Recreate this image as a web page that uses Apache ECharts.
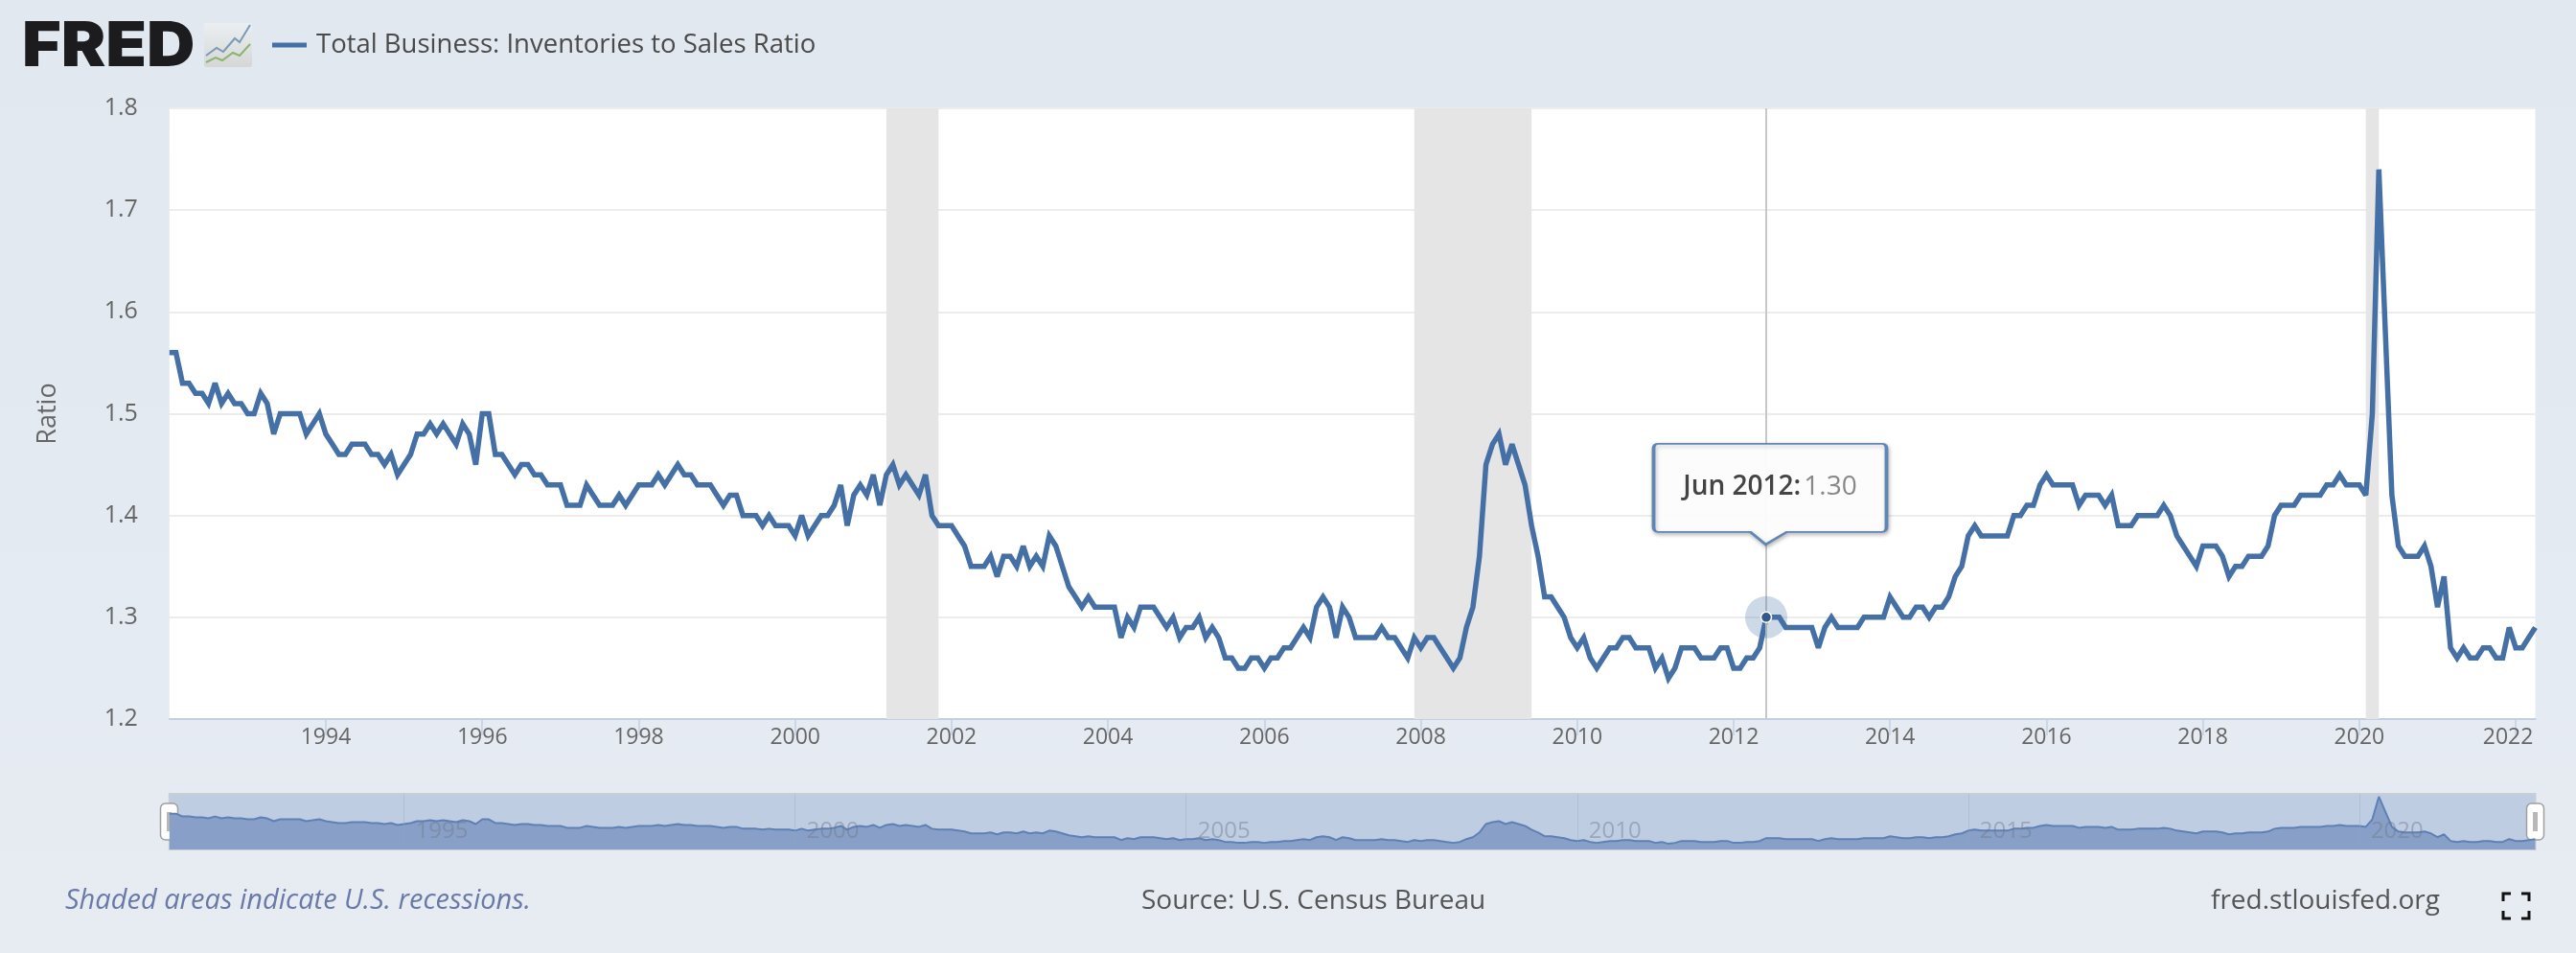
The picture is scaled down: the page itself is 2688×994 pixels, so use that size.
<!DOCTYPE html>
<html>
<head>
<meta charset="utf-8">
<title>Total Business: Inventories to Sales Ratio</title>
<style>html,body{margin:0;padding:0;background:#e3e9f1}#chart{width:2688px;height:994px}</style>
<script src="https://cdn.jsdelivr.net/npm/echarts@6/dist/echarts.min.js"></script>
</head>
<body>
<div id="chart"></div>
<script>
const seriesName = 'Total Business: Inventories to Sales Ratio';
const firstYear = 1992;
const y1992 = [1.56,1.56,1.53,1.53,1.52,1.52,1.51,1.53,1.51,1.52,1.51,1.51];
const y1993 = [1.50,1.50,1.52,1.51,1.48,1.50,1.50,1.50,1.50,1.48,1.49,1.50];
const y1994 = [1.48,1.47,1.46,1.46,1.47,1.47,1.47,1.46,1.46,1.45,1.46,1.44];
const y1995 = [1.45,1.46,1.48,1.48,1.49,1.48,1.49,1.48,1.47,1.49,1.48,1.45];
const y1996 = [1.50,1.50,1.46,1.46,1.45,1.44,1.45,1.45,1.44,1.44,1.43,1.43];
const y1997 = [1.43,1.41,1.41,1.41,1.43,1.42,1.41,1.41,1.41,1.42,1.41,1.42];
const y1998 = [1.43,1.43,1.43,1.44,1.43,1.44,1.45,1.44,1.44,1.43,1.43,1.43];
const y1999 = [1.42,1.41,1.42,1.42,1.40,1.40,1.40,1.39,1.40,1.39,1.39,1.39];
const y2000 = [1.38,1.40,1.38,1.39,1.40,1.40,1.41,1.43,1.39,1.42,1.43,1.42];
const y2001 = [1.44,1.41,1.44,1.45,1.43,1.44,1.43,1.42,1.44,1.40,1.39,1.39];
const y2002 = [1.39,1.38,1.37,1.35,1.35,1.35,1.36,1.34,1.36,1.36,1.35,1.37];
const y2003 = [1.35,1.36,1.35,1.38,1.37,1.35,1.33,1.32,1.31,1.32,1.31,1.31];
const y2004 = [1.31,1.31,1.28,1.30,1.29,1.31,1.31,1.31,1.30,1.29,1.30,1.28];
const y2005 = [1.29,1.29,1.30,1.28,1.29,1.28,1.26,1.26,1.25,1.25,1.26,1.26];
const y2006 = [1.25,1.26,1.26,1.27,1.27,1.28,1.29,1.28,1.31,1.32,1.31,1.28];
const y2007 = [1.31,1.30,1.28,1.28,1.28,1.28,1.29,1.28,1.28,1.27,1.26,1.28];
const y2008 = [1.27,1.28,1.28,1.27,1.26,1.25,1.26,1.29,1.31,1.36,1.45,1.47];
const y2009 = [1.48,1.45,1.47,1.45,1.43,1.39,1.36,1.32,1.32,1.31,1.30,1.28];
const y2010 = [1.27,1.28,1.26,1.25,1.26,1.27,1.27,1.28,1.28,1.27,1.27,1.27];
const y2011 = [1.25,1.26,1.24,1.25,1.27,1.27,1.27,1.26,1.26,1.26,1.27,1.27];
const y2012 = [1.25,1.25,1.26,1.26,1.27,1.30,1.30,1.30,1.29,1.29,1.29,1.29];
const y2013 = [1.29,1.27,1.29,1.30,1.29,1.29,1.29,1.29,1.30,1.30,1.30,1.30];
const y2014 = [1.32,1.31,1.30,1.30,1.31,1.31,1.30,1.31,1.31,1.32,1.34,1.35];
const y2015 = [1.38,1.39,1.38,1.38,1.38,1.38,1.38,1.40,1.40,1.41,1.41,1.43];
const y2016 = [1.44,1.43,1.43,1.43,1.43,1.41,1.42,1.42,1.42,1.41,1.42,1.39];
const y2017 = [1.39,1.39,1.40,1.40,1.40,1.40,1.41,1.40,1.38,1.37,1.36,1.35];
const y2018 = [1.37,1.37,1.37,1.36,1.34,1.35,1.35,1.36,1.36,1.36,1.37,1.40];
const y2019 = [1.41,1.41,1.41,1.42,1.42,1.42,1.42,1.43,1.43,1.44,1.43,1.43];
const y2020 = [1.43,1.42,1.50,1.74,1.58,1.42,1.37,1.36,1.36,1.36,1.37,1.35];
const y2021 = [1.31,1.34,1.27,1.26,1.27,1.26,1.26,1.27,1.27,1.26,1.26,1.29];
const y2022 = [1.27,1.27,1.28,1.29];
const values = [].concat(y1992,y1993,y1994,y1995,y1996,y1997,y1998,y1999,y2000,y2001,y2002,y2003,y2004,y2005,y2006,y2007,y2008,y2009,y2010,y2011,y2012,y2013,y2014,y2015,y2016,y2017,y2018,y2019,y2020,y2021,y2022);
const months = values.map((_, i) => {
  const y = firstYear + Math.floor(i / 12), m = i % 12 + 1;
  return y + '-' + String(m).padStart(2, '0');
});
const recessions = [['2001-03','2001-11'],['2007-12','2009-06'],['2020-02','2020-04']];
const yTicks = {min:1.2, max:1.8, step:0.1};
const hoverMonth = '2012-06', hoverLabel = 'Jun 2012:', hoverValue = '1.30';
const FONT = '"Open Sans", sans-serif';
const TXT = '#666666';
const LINE = '#4470a5';

const isMainTick = i => i > 0 && i % 24 === 0;
const isNavTick = i => i % 60 === 36;
const mainCats = months.map((m) => m === '2022-01'
  ? {value:m, textStyle:{padding:[0,16,0,0]}} : m);

const chart = echarts.init(document.getElementById('chart'), null, {renderer:'canvas'});
chart.setOption({
  animation:false,
  backgroundColor:{type:'linear',x:0,y:0,x2:0,y2:1,colorStops:[{offset:0,color:'#e1e8f0'},{offset:1,color:'#e7ecf3'}]},
  textStyle:{fontFamily:FONT},
  legend:{
    data:[seriesName], left:279, top:28, icon:'rect', itemWidth:36, itemHeight:5, selectedMode:false,
    textStyle:{fontFamily:FONT,fontSize:27.5,color:'#4a4a4a',padding:[0,0,0,5]}
  },
  grid:[
    {left:176.8, right:42.5, top:113, height:637, backgroundColor:'#ffffff', show:true, borderWidth:0},
    {left:176.8, right:42.5, top:828, height:58, backgroundColor:'#bfcde3', show:true, borderWidth:2, borderColor:'#c9ced6'}
  ],
  xAxis:[
    {type:'category', gridIndex:0, data:mainCats, boundaryGap:false,
     axisLine:{lineStyle:{color:'#c4d0e2',width:2}},
     axisTick:{alignWithLabel:true,interval:(i)=>isMainTick(i),length:17,lineStyle:{color:'#c4d0e2',width:1.5}},
     axisLabel:{interval:(i)=>isMainTick(i),formatter:v=>v.slice(0,4),fontFamily:FONT,fontSize:23,color:TXT,margin:8},
     splitLine:{show:false}},
    {type:'category', gridIndex:1, data:months, boundaryGap:false, z:6,
     axisLine:{show:false}, axisTick:{show:false},
     axisLabel:{inside:true,interval:(i)=>isNavTick(i),formatter:v=>v.slice(0,4),align:'left',padding:[0,0,0,12],fontFamily:FONT,fontSize:24,color:'rgba(110,120,135,0.45)',margin:7},
     splitLine:{show:true,interval:(i)=>isNavTick(i),lineStyle:{color:'rgba(150,165,195,0.35)',width:1}}}
  ],
  yAxis:[
    {type:'value', gridIndex:0, min:yTicks.min, max:yTicks.max, interval:yTicks.step,
     name:'Ratio', nameLocation:'middle', nameGap:113, nameRotate:90,
     nameTextStyle:{fontFamily:FONT,fontSize:27,color:TXT},
     axisLine:{show:false}, axisTick:{show:false},
     axisLabel:{formatter:v=>v.toFixed(1),fontFamily:FONT,fontSize:25,color:TXT,margin:33},
     splitLine:{lineStyle:{color:'#ececec',width:2}}},
    {type:'value', gridIndex:1, min:1.18, max:1.77, show:false, splitLine:{show:false}}
  ],
  series:[
    {name:seriesName, type:'line', xAxisIndex:0, yAxisIndex:0, data:values, showSymbol:false, silent:true,
     itemStyle:{color:LINE}, lineStyle:{color:LINE,width:5.5,join:'miter',miterLimit:3},
     markArea:{silent:true, itemStyle:{color:'#e5e5e5'}, data:recessions.map(r=>[{xAxis:r[0]},{xAxis:r[1]}])},
     markLine:{silent:true, symbol:'none', label:{show:false}, lineStyle:{color:'#c8c8c8',width:2,type:'solid'}, data:[{xAxis:hoverMonth}]},
     markPoint:{silent:true, data:[
       {coord:[hoverMonth,1.30], symbol:'circle', symbolSize:44, itemStyle:{color:'rgba(69,114,167,0.27)'}, label:{show:false}},
       {coord:[hoverMonth,1.30], symbol:'circle', symbolSize:11, itemStyle:{color:'#33598a',borderColor:'#ffffff',borderWidth:1.5}, label:{show:false}},
       {coord:[hoverMonth,1.30], symbol:'path://M5,0 L238,0 Q243,0 243,5 L243,87 Q243,92 238,92 L139,92 L117,105 L101,92 L5,92 Q0,92 0,87 L0,5 Q0,0 5,0 Z',
        symbolSize:[243,105], symbolKeepAspect:false, symbolOffset:[4,-128.5],
        itemStyle:{color:'rgba(255,255,255,0.95)',borderColor:'#5f86b5',borderWidth:2.5,shadowBlur:4,shadowColor:'rgba(0,0,0,0.25)',shadowOffsetX:1,shadowOffsetY:2},
        label:{show:true,position:'inside',offset:[0,-7],formatter:'{a|'+hoverLabel+'} {b|'+hoverValue+'}',
          rich:{a:{fontFamily:FONT,fontSize:28,fontWeight:600,color:'#444444'},b:{fontFamily:FONT,fontSize:28,color:'#888888'}}}}
     ]}},
    {name:'navigator', type:'line', xAxisIndex:1, yAxisIndex:1, data:values, showSymbol:false, silent:true,
     lineStyle:{color:'#5f80b5',width:2}, itemStyle:{color:'#5f80b5'},
     areaStyle:{color:'#88a0c7',opacity:1,origin:'start'}}
  ],
  graphic:[
    {type:'text',x:23,y:18,scaleX:1.09,style:{text:'FRED',fontFamily:'Inter, Roboto, sans-serif',fontWeight:900,fontSize:64,fill:'#1c1c1e'}},
    {type:'rect',shape:{x:213,y:24,width:50,height:46,r:3},style:{fill:{type:'linear',x:0,y:0,x2:0,y2:1,colorStops:[{offset:0,color:'#eceff2'},{offset:1,color:'#d5d7d6'}]}}},
    {type:'polyline',shape:{points:[[215,58],[226,50],[233,54],[245,40],[250,44],[261,26]]},style:{stroke:'#7c9ab6',lineWidth:2,fill:null}},
    {type:'polyline',shape:{points:[[215,65],[225,60],[232,63],[243,55],[250,58],[261,46]]},style:{stroke:'#8db36e',lineWidth:2,fill:null}},
    {type:'rect',shape:{x:167.5,y:838,width:18,height:38,r:5},style:{fill:'#ffffff',stroke:'#a0a0a0',lineWidth:1.5}},
    {type:'rect',shape:{x:174,y:847,width:5,height:20},style:{fill:'#b8b8b8'}},
    {type:'rect',shape:{x:2636.5,y:838,width:18,height:38,r:5},style:{fill:'#ffffff',stroke:'#a0a0a0',lineWidth:1.5}},
    {type:'rect',shape:{x:2643,y:847,width:5,height:20},style:{fill:'#b8b8b8'}},
    {type:'text',left:68,top:925,style:{text:'Shaded areas indicate U.S. recessions.',fontFamily:FONT,fontStyle:'italic',fontSize:29,fill:'#6a7aa6'}},
    {type:'text',left:1191,top:926,style:{text:'Source: U.S. Census Bureau',fontFamily:FONT,fontSize:28,fill:'#555555'}},
    {type:'text',left:2307,top:926,style:{text:'fred.stlouisfed.org',fontFamily:FONT,fontSize:28,fill:'#555555'}},
    {type:'polyline',shape:{points:[[2612,940],[2612,932],[2620,932]]},style:{stroke:'#111',lineWidth:3,fill:null}},
    {type:'polyline',shape:{points:[[2631,932],[2639,932],[2639,940]]},style:{stroke:'#111',lineWidth:3,fill:null}},
    {type:'polyline',shape:{points:[[2612,950],[2612,958],[2620,958]]},style:{stroke:'#111',lineWidth:3,fill:null}},
    {type:'polyline',shape:{points:[[2631,958],[2639,958],[2639,950]]},style:{stroke:'#111',lineWidth:3,fill:null}}
  ]
});
</script>
</body>
</html>
